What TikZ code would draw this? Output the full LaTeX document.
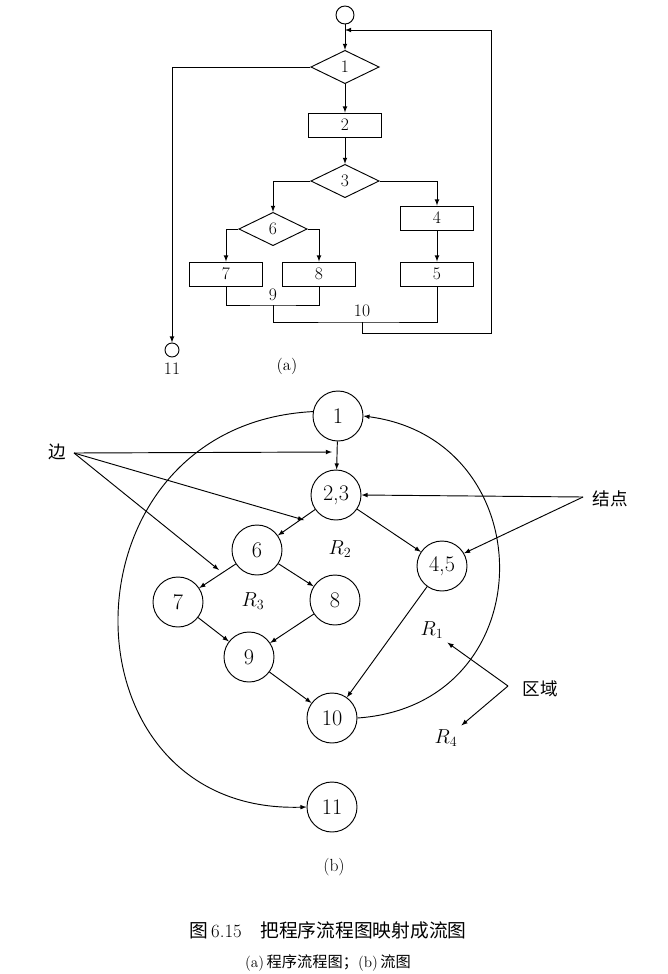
\documentclass[tikz,border=0pt]{standalone}
\usepackage{fontspec}
\newfontfamily\cjk{Noto Sans CJK SC}
\usetikzlibrary{shapes.geometric}
\tikzset{
  flowbox/.style={draw,thick,minimum width=2.19cm,minimum height=0.72cm,inner sep=0pt,font=\fontsize{15}{17}\selectfont},
  flowdia/.style={draw,thick,diamond,minimum width=2.05cm,minimum height=1.0cm,inner sep=0pt,font=\fontsize{15}{17}\selectfont},
  gnode/.style={draw,thick,circle,minimum size=1.5cm,inner sep=0pt,font=\fontsize{19}{22}\selectfont},
  gedge/.style={thick,-latex},
  pointer/.style={thick,-latex},
}
\begin{document}
\begin{tikzpicture}[x=0.03cm,y=-0.03cm]
\useasboundingbox (0,0) rectangle (667,974);
% (a) program flowchart
\begin{scope}
		\node[draw,thick,circle,minimum size=0.54cm] (start) at (345,15) {};
		\node[flowdia] (d1) at (345,67) {1};
		\node[flowbox] (b2) at (345,125) {2};
		\node[flowdia] (d3) at (345,181) {3};
		\node[flowdia] (d6) at (273,229) {6};
		\node[flowbox] (b4) at (437,218) {4};
		\node[flowbox] (b5) at (437,274) {5};
		\node[flowbox] (b7) at (226,274) {7};
		\node[flowbox] (b8) at (319,274) {8};
		\node[draw,thick,circle,minimum size=0.42cm] (e11) at (172,350) {};
		\node[font=\fontsize{15}{17}\selectfont] (l11) at (172,369) {11};
		\coordinate (join) at (345,30);
		\coordinate (c9) at (273,305);
		\coordinate (c10) at (362,322);
		\coordinate (loopc) at (491,333);
		\draw[thick,-latex] (start) -- (d1);
		\draw[thick,-latex] (d1) -- (b2);
		\draw[thick,-latex] (b2) -- (d3);
		\draw[thick,-latex] (d1.west) -| (e11.north);
		\draw[thick,-latex] (d3.west) -| (d6.north);
		\draw[thick,-latex] (d3.east) -| (b4.north);
		\draw[thick,-latex] (d6.west) -| (b7.north);
		\draw[thick,-latex] (d6.east) -| (b8.north);
		\draw[thick,-latex] (b4) -- (b5);
		\draw[thick] (b7.south) |- (c9) -| (b8.south);
		\draw[thick] (c9) |- (c10) -| (b5.south);
		\draw[thick,-latex] (c10) |- (loopc) |- (join);
		\node[font=\fontsize{15}{17}\selectfont] (l9) at (273,295) {9};
		\node[font=\fontsize{15}{17}\selectfont] (l10) at (362,311) {10};
		\node[font=\fontsize{14}{17}\selectfont] (capa) at (287,366) {(a)};
\end{scope}
% (b) flow graph
\begin{scope}
		\node[gnode] (n1) at (338,416) {1};
		\node[gnode] (n23) at (336,495) {2,3};
		\node[gnode] (n6) at (257,550) {6};
		\node[gnode] (n45) at (442,566) {4,5};
		\node[gnode] (n7) at (178,602) {7};
		\node[gnode] (n8) at (335,600) {8};
		\node[gnode] (n9) at (249,657) {9};
		\node[gnode] (n10) at (332,718) {10};
		\node[gnode] (n11) at (332,807) {11};
		\draw[gedge] (n1) -- (n23);
		\draw[gedge] (n23) -- (n6);
		\draw[gedge] (n23) -- (n45);
		\draw[gedge] (n6) -- (n7);
		\draw[gedge] (n6) -- (n8);
		\draw[gedge] (n7) -- (n9);
		\draw[gedge] (n8) -- (n9);
		\draw[gedge] (n9) -- (n10);
		\draw[gedge] (n45) -- (n10);
		\draw[gedge] (n1.170) .. controls (55,425) and (55,815) .. (n11.west);
		\draw[gedge] (n10.east) .. controls (545,705) and (545,440) .. (n1.east);
		\node[font=\fontsize{17}{20}\selectfont] (r2) at (340,549) {$R_2$};
		\node[font=\fontsize{17}{20}\selectfont] (r3) at (253,601) {$R_3$};
		\node[font=\fontsize{17}{20}\selectfont] (r1) at (432,630) {$R_1$};
		\node[font=\fontsize{17}{20}\selectfont] (r4) at (446,738) {$R_4$};
		\node[font=\cjk\fontsize{15}{18}\selectfont] (bian) at (57,452) {边};
		\node[font=\cjk\fontsize{15}{18}\selectfont] (jiedian) at (610,499) {结点};
		\node[font=\cjk\fontsize{15}{18}\selectfont] (quyu) at (540,689) {区域};
		\coordinate (pb) at (74,453);
		\coordinate (pj) at (583,497);
		\coordinate (pq) at (508,686);
		\draw[pointer] (pb) -- (332,452);
		\draw[pointer] (pb) -- (304,520);
		\draw[pointer] (pb) -- (219,570);
		\draw[pointer] (pj) -- (n23.east);
		\draw[pointer] (pj) -- (n45.30);
		\draw[pointer] (pq) -- (r1.south east);
		\draw[pointer] (pq) -- (r4.north east);
		\node[font=\fontsize{15}{18}\selectfont] (capb) at (334,867) {(b)};
\end{scope}
% caption
\node[font=\fontsize{16}{19}\selectfont] (cap) at (328,930) {{\cjk 图}\,6.15\quad {\cjk 把程序流程图映射成流图}};
\node[font=\fontsize{13}{16}\selectfont] (subcap) at (328,963) {(a)\,{\cjk 程序流程图；}(b)\,{\cjk 流图}};
\end{tikzpicture}
\end{document}
